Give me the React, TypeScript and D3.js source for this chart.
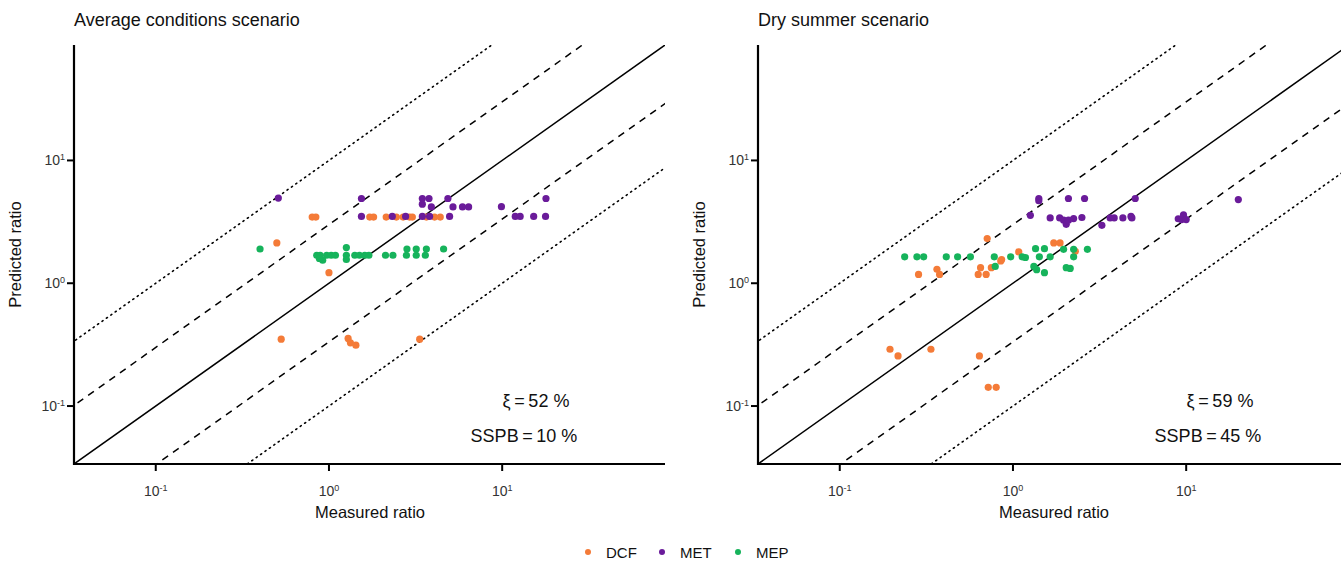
import React from "react";
import * as d3 from "d3";

type Pt = [number, number];

const panelTitles = ["Average conditions scenario", "Dry summer scenario"];
const tickValues = [0.1, 1, 10];
const tickExponents = ["-1", "0", "1"];
const seriesNames = ["DCF", "MET", "MEP"];
const seriesColors = ["#F47B38", "#6A1B9A", "#16B35B"];
const xiLabels = ["ξ\u2009=\u200952 %", "ξ\u2009=\u200959 %"];
const sspbLabels = ["SSPB\u2009=\u200910 %", "SSPB\u2009=\u200945 %"];

const dcfAvg: Pt[] = [
  [0.8, 3.46], [0.84, 3.46], [1.72, 3.46], [1.81, 3.46], [2.14, 3.46], [2.45, 3.46],
  [2.68, 3.46], [2.92, 3.46], [3.03, 3.46], [3.65, 3.46], [4.07, 3.46], [4.39, 3.46],
  [0.5, 2.13], [1.0, 1.22], [0.53, 0.35], [1.29, 0.355], [1.33, 0.327], [1.43, 0.313], [3.34, 0.35],
];
const metAvg: Pt[] = [
  [0.51, 4.94], [1.54, 4.9], [3.46, 4.9], [3.78, 4.9], [3.46, 4.4], [4.86, 4.9], [3.9, 4.18],
  [5.2, 4.18], [5.9, 4.18], [6.4, 4.18], [9.9, 4.2], [17.9, 4.9],
  [1.54, 3.5], [2.32, 3.5], [2.77, 3.5], [3.46, 3.5], [3.81, 3.5], [4.97, 3.5],
  [11.9, 3.5], [12.7, 3.5], [15.2, 3.5], [17.8, 3.5],
];
const mepAvg: Pt[] = [
  [0.4, 1.9], [0.85, 1.69], [0.89, 1.69], [0.97, 1.69], [1.03, 1.69], [1.09, 1.69],
  [0.92, 1.54], [0.88, 1.59], [1.26, 1.95], [1.26, 1.69], [1.26, 1.56], [1.41, 1.69],
  [1.5, 1.69], [1.61, 1.69], [1.7, 1.69], [2.12, 1.69], [2.34, 1.69], [2.82, 1.9],
  [3.19, 1.9], [3.65, 1.9], [2.8, 1.69], [3.19, 1.69], [3.6, 1.69], [4.59, 1.9],
];

const dcfDry: Pt[] = [
  [0.71, 2.31], [1.72, 2.13], [1.87, 2.13], [2.29, 1.82], [1.08, 1.8], [0.86, 1.56],
  [0.85, 1.52], [0.75, 1.34], [0.65, 1.34], [0.63, 1.18], [0.7, 1.18], [0.364, 1.3],
  [0.377, 1.18], [0.285, 1.18], [0.336, 0.29], [0.195, 0.29], [0.217, 0.256], [0.64, 0.256],
  [0.72, 0.142], [0.8, 0.142],
];
const metDry: Pt[] = [
  [1.41, 4.9], [1.41, 4.7], [2.09, 4.9], [2.59, 4.9], [5.08, 4.9], [1.26, 3.57], [1.64, 3.4],
  [1.86, 3.4], [1.96, 3.26], [2.03, 3.02], [2.09, 3.26], [2.24, 3.36], [2.5, 3.43], [3.26, 2.96],
  [3.64, 3.4], [3.84, 3.4], [4.31, 3.4], [4.8, 3.5], [4.86, 3.4], [9.0, 3.35], [9.4, 3.3],
  [9.65, 3.6], [10.0, 3.3], [20, 4.8],
];
const mepDry: Pt[] = [
  [0.237, 1.64], [0.279, 1.64], [0.305, 1.64], [0.412, 1.64], [0.479, 1.64], [0.568, 1.64],
  [0.78, 1.64], [0.79, 1.37], [0.97, 1.64], [1.13, 1.64], [1.18, 1.62], [1.35, 1.91],
  [1.52, 1.91], [1.42, 1.64], [1.64, 1.64], [1.96, 1.89], [2.24, 1.89], [2.24, 1.64],
  [2.69, 1.89], [1.32, 1.37], [1.37, 1.29], [1.52, 1.22], [2.03, 1.34], [2.14, 1.32],
];

const panelData: Pt[][][] = [
  [dcfAvg, metAvg, mepAvg],
  [dcfDry, metDry, mepDry],
];

const domain: [number, number] = [Math.pow(10, -1.472), Math.pow(10, 1.94)];
const refFactors = [
  { f: 1, dash: "" },
  { f: 3, dash: "7,6" },
  { f: 1 / 3, dash: "7,6" },
  { f: 10, dash: "1.2,4.2" },
  { f: 1 / 10, dash: "1.2,4.2" },
];

const FONT = "'Liberation Sans', Arial, sans-serif";

function Panel({ idx, left }: { idx: number; left: number }) {
  const width = 591;
  const top = 45;
  const bottom = 464;
  const x = d3.scaleLog().domain(domain).range([left, left + width]);
  const y = d3.scaleLog().domain(domain).range([bottom, top]);
  const clipId = `clip${idx}`;
  const lo = domain[0] / 100;
  const hi = domain[1] * 100;
  return (
    <g>
      <defs>
        <clipPath id={clipId}>
          <rect x={left} y={top} width={width} height={bottom - top} />
        </clipPath>
      </defs>
      <text x={left} y={26} fontFamily={FONT} fontSize={18} fill="#111">
        {panelTitles[idx]}
      </text>
      <g clipPath={`url(#${clipId})`}>
        {refFactors.map((r, i) => {
          const dotted = r.dash.startsWith("1.2");
          return (
            <line
              key={i}
              x1={x(lo)}
              y1={y(lo * r.f)}
              x2={x(hi)}
              y2={y(hi * r.f)}
              stroke="#000"
              strokeWidth={dotted ? 1.6 : 1.5}
              strokeDasharray={r.dash || undefined}
              strokeLinecap={dotted ? "round" : "butt"}
            />
          );
        })}
      </g>
      {panelData[idx].map((series, si) => (
        <g key={si}>
          {series.map((p, pi) => (
            <circle key={pi} cx={x(p[0])} cy={y(p[1])} r={3.6} fill={seriesColors[si]} />
          ))}
        </g>
      ))}
      <line x1={left} y1={top} x2={left} y2={bottom + 1} stroke="#000" strokeWidth={2.2} />
      <line x1={left - 1} y1={bottom} x2={left + width} y2={bottom} stroke="#000" strokeWidth={2.2} />
      {tickValues.map((t, i) => (
        <g key={`x${i}`}>
          <line x1={x(t)} x2={x(t)} y1={bottom} y2={bottom + 7} stroke="#000" strokeWidth={2} />
          <text x={x(t)} y={496} textAnchor="middle" fontFamily={FONT} fontSize={14} fill="#333">
            10<tspan dy={-5.5} fontSize={9}>{tickExponents[i]}</tspan>
          </text>
        </g>
      ))}
      {tickValues.map((t, i) => (
        <g key={`y${i}`}>
          <line x1={left - 7} x2={left} y1={y(t)} y2={y(t)} stroke="#000" strokeWidth={2} />
          <text x={left - 9} y={y(t) + 5} textAnchor="end" fontFamily={FONT} fontSize={14} fill="#333">
            10<tspan dy={-5.5} fontSize={9}>{tickExponents[i]}</tspan>
          </text>
        </g>
      ))}
      <text x={left + 296} y={518} textAnchor="middle" fontFamily={FONT} fontSize={16.5} fill="#111">
        Measured ratio
      </text>
      <text
        transform={`translate(${left - 53},${(top + bottom) / 2}) rotate(-90)`}
        textAnchor="middle"
        fontFamily={FONT}
        fontSize={16.5}
        fill="#111"
      >
        Predicted ratio
      </text>
      <text x={left + 462} y={407} textAnchor="middle" fontFamily={FONT} fontSize={18} fill="#111">
        {xiLabels[idx]}
      </text>
      <text x={left + 450} y={442} textAnchor="middle" fontFamily={FONT} fontSize={18} fill="#111">
        {sspbLabels[idx]}
      </text>
    </g>
  );
}

export default function App() {
  const legendX = [588, 662, 738];
  return (
    <svg width={1341} height={563} style={{ position: "absolute", left: 0, top: 0, background: "#fff" }}>
      <rect x={0} y={0} width={1341} height={563} fill="#fff" />
      <Panel idx={0} left={74} />
      <Panel idx={1} left={758} />
      {seriesNames.map((n, i) => (
        <g key={n}>
          <circle cx={legendX[i]} cy={552} r={3} fill={seriesColors[i]} />
          <text x={legendX[i] + 18} y={557.5} fontFamily={FONT} fontSize={15} fill="#111">
            {n}
          </text>
        </g>
      ))}
    </svg>
  );
}
